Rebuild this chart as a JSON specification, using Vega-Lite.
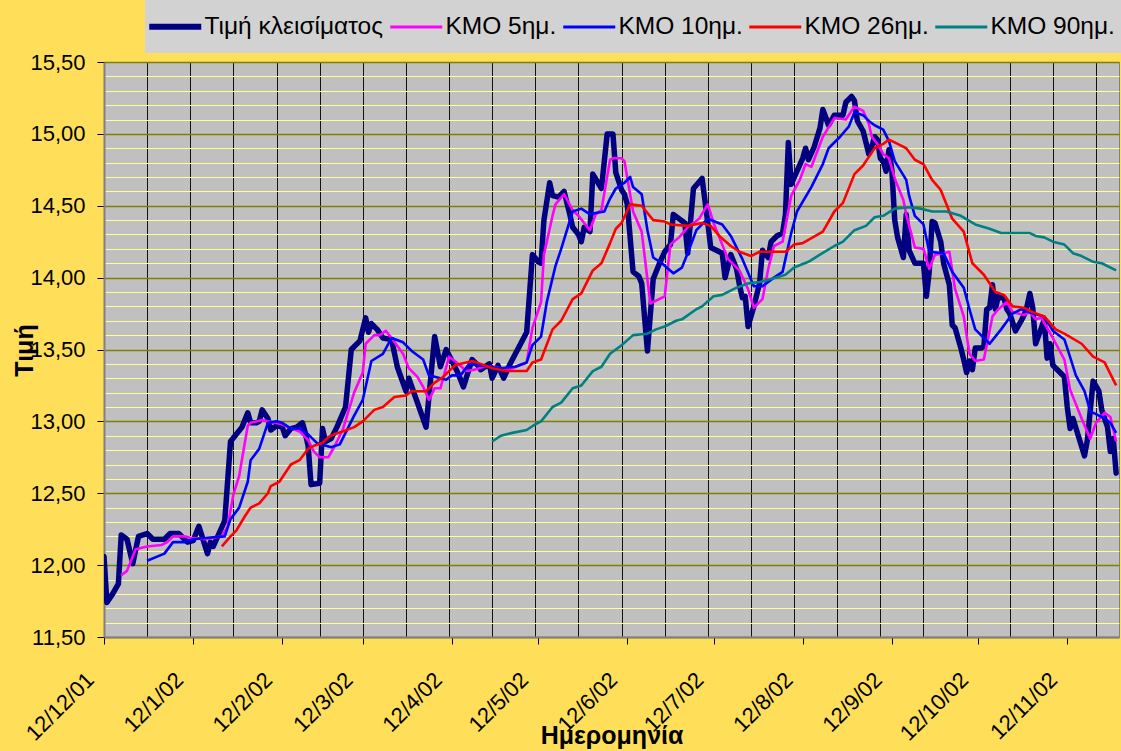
{
  "$schema": "https://vega.github.io/schema/vega-lite/v6.json",
  "width": 1015,
  "height": 575,
  "autosize": {"type": "none"},
  "padding": {"left": 104, "top": 62, "right": 2, "bottom": 114},
  "background": "#FFDF5A",
  "view": {"fill": "#C0C0C0", "stroke": "#808080", "strokeWidth": 1},
  "config": {
    "font": "Liberation Sans",
    "axis": {"labelFont": "Liberation Sans", "titleFont": "Liberation Sans", "labelColor": "#000000", "titleColor": "#000000"},
    "legend": {"labelFont": "Liberation Sans"}
  },
  "datasets": {
    "close": [
      {"t":"2001-12-12","v":12.06},{"t":"2001-12-13","v":11.74},{"t":"2001-12-15","v":11.80},{"t":"2001-12-17","v":11.87},
      {"t":"2001-12-18","v":12.21},{"t":"2001-12-20","v":12.18},{"t":"2001-12-22","v":12.01},{"t":"2001-12-24","v":12.20},
      {"t":"2001-12-27","v":12.22},{"t":"2001-12-29","v":12.18},{"t":"2002-01-02","v":12.18},{"t":"2002-01-04","v":12.22},
      {"t":"2002-01-07","v":12.22},{"t":"2002-01-10","v":12.16},{"t":"2002-01-12","v":12.17},{"t":"2002-01-14","v":12.27},
      {"t":"2002-01-17","v":12.08},{"t":"2002-01-18","v":12.16},{"t":"2002-01-19","v":12.13},{"t":"2002-01-21","v":12.22},
      {"t":"2002-01-23","v":12.31},{"t":"2002-01-25","v":12.86},{"t":"2002-01-27","v":12.91},{"t":"2002-01-29","v":12.96},
      {"t":"2002-01-31","v":13.06},{"t":"2002-02-01","v":12.99},{"t":"2002-02-03","v":12.99},{"t":"2002-02-04","v":13.00},
      {"t":"2002-02-05","v":13.08},{"t":"2002-02-07","v":13.02},{"t":"2002-02-08","v":12.94},{"t":"2002-02-10","v":12.97},
      {"t":"2002-02-12","v":12.96},{"t":"2002-02-13","v":12.90},{"t":"2002-02-15","v":12.95},{"t":"2002-02-17","v":12.96},
      {"t":"2002-02-19","v":12.99},{"t":"2002-02-20","v":12.92},{"t":"2002-02-21","v":12.83},{"t":"2002-02-22","v":12.56},
      {"t":"2002-02-25","v":12.57},{"t":"2002-02-26","v":12.95},{"t":"2002-02-27","v":12.86},{"t":"2002-03-01","v":12.88},
      {"t":"2002-03-03","v":12.96},{"t":"2002-03-06","v":13.10},{"t":"2002-03-08","v":13.50},{"t":"2002-03-11","v":13.56},
      {"t":"2002-03-13","v":13.72},{"t":"2002-03-14","v":13.62},{"t":"2002-03-15","v":13.68},{"t":"2002-03-17","v":13.64},
      {"t":"2002-03-19","v":13.58},{"t":"2002-03-22","v":13.57},{"t":"2002-03-24","v":13.38},{"t":"2002-03-27","v":13.21},
      {"t":"2002-03-28","v":13.30},{"t":"2002-03-31","v":13.13},{"t":"2002-04-03","v":12.96},{"t":"2002-04-06","v":13.59},
      {"t":"2002-04-08","v":13.38},{"t":"2002-04-10","v":13.50},{"t":"2002-04-13","v":13.38},{"t":"2002-04-14","v":13.34},
      {"t":"2002-04-16","v":13.24},{"t":"2002-04-19","v":13.43},{"t":"2002-04-21","v":13.39},{"t":"2002-04-22","v":13.36},
      {"t":"2002-04-25","v":13.40},{"t":"2002-04-26","v":13.30},{"t":"2002-04-28","v":13.39},{"t":"2002-04-30","v":13.30},
      {"t":"2002-05-02","v":13.39},{"t":"2002-05-08","v":13.62},{"t":"2002-05-10","v":14.16},{"t":"2002-05-12","v":14.11},
      {"t":"2002-05-13","v":14.10},{"t":"2002-05-14","v":14.40},{"t":"2002-05-16","v":14.66},{"t":"2002-05-17","v":14.57},
      {"t":"2002-05-19","v":14.56},{"t":"2002-05-21","v":14.60},{"t":"2002-05-23","v":14.44},{"t":"2002-05-24","v":14.35},
      {"t":"2002-05-26","v":14.30},{"t":"2002-05-27","v":14.25},{"t":"2002-05-28","v":14.35},{"t":"2002-05-30","v":14.32},
      {"t":"2002-05-31","v":14.72},{"t":"2002-06-03","v":14.62},{"t":"2002-06-05","v":15.00},{"t":"2002-06-07","v":15.00},
      {"t":"2002-06-08","v":14.73},{"t":"2002-06-10","v":14.61},{"t":"2002-06-11","v":14.58},{"t":"2002-06-12","v":14.51},
      {"t":"2002-06-14","v":14.04},{"t":"2002-06-16","v":14.01},{"t":"2002-06-17","v":13.96},{"t":"2002-06-19","v":13.49},
      {"t":"2002-06-21","v":13.99},{"t":"2002-06-23","v":14.09},{"t":"2002-06-25","v":14.18},{"t":"2002-06-27","v":14.23},
      {"t":"2002-06-28","v":14.44},{"t":"2002-06-30","v":14.41},{"t":"2002-07-02","v":14.38},{"t":"2002-07-03","v":14.17},
      {"t":"2002-07-05","v":14.62},{"t":"2002-07-08","v":14.69},{"t":"2002-07-10","v":14.38},{"t":"2002-07-11","v":14.21},
      {"t":"2002-07-14","v":14.18},{"t":"2002-07-15","v":14.17},{"t":"2002-07-16","v":14.00},{"t":"2002-07-18","v":14.16},
      {"t":"2002-07-20","v":14.06},{"t":"2002-07-21","v":13.95},{"t":"2002-07-22","v":13.86},{"t":"2002-07-23","v":13.87},
      {"t":"2002-07-24","v":13.66},{"t":"2002-07-26","v":13.80},{"t":"2002-07-28","v":13.96},{"t":"2002-07-29","v":14.19},
      {"t":"2002-07-31","v":14.14},{"t":"2002-08-01","v":14.25},{"t":"2002-08-03","v":14.29},{"t":"2002-08-05","v":14.31},
      {"t":"2002-08-06","v":14.44},{"t":"2002-08-07","v":14.94},{"t":"2002-08-08","v":14.65},{"t":"2002-08-10","v":14.74},
      {"t":"2002-08-12","v":14.83},{"t":"2002-08-13","v":14.90},{"t":"2002-08-14","v":14.82},{"t":"2002-08-16","v":14.91},
      {"t":"2002-08-18","v":15.04},{"t":"2002-08-19","v":15.17},{"t":"2002-08-21","v":15.06},{"t":"2002-08-23","v":15.13},
      {"t":"2002-08-26","v":15.13},{"t":"2002-08-27","v":15.22},{"t":"2002-08-29","v":15.26},{"t":"2002-08-30","v":15.23},
      {"t":"2002-08-31","v":15.09},{"t":"2002-09-02","v":15.02},{"t":"2002-09-04","v":14.86},{"t":"2002-09-05","v":14.91},
      {"t":"2002-09-06","v":14.98},{"t":"2002-09-07","v":14.96},{"t":"2002-09-08","v":14.83},{"t":"2002-09-09","v":14.81},
      {"t":"2002-09-10","v":14.74},{"t":"2002-09-11","v":14.89},{"t":"2002-09-12","v":14.75},{"t":"2002-09-13","v":14.40},
      {"t":"2002-09-14","v":14.28},{"t":"2002-09-16","v":14.14},{"t":"2002-09-17","v":14.44},{"t":"2002-09-18","v":14.19},
      {"t":"2002-09-20","v":14.10},{"t":"2002-09-23","v":14.10},{"t":"2002-09-24","v":13.87},{"t":"2002-09-25","v":14.04},
      {"t":"2002-09-26","v":14.39},{"t":"2002-09-27","v":14.38},{"t":"2002-09-29","v":14.25},{"t":"2002-09-30","v":14.10},
      {"t":"2002-10-02","v":13.95},{"t":"2002-10-03","v":13.67},{"t":"2002-10-04","v":13.65},{"t":"2002-10-06","v":13.51},
      {"t":"2002-10-07","v":13.43},{"t":"2002-10-08","v":13.34},{"t":"2002-10-09","v":13.42},{"t":"2002-10-10","v":13.36},
      {"t":"2002-10-11","v":13.51},{"t":"2002-10-13","v":13.51},{"t":"2002-10-14","v":13.52},{"t":"2002-10-15","v":13.78},
      {"t":"2002-10-16","v":13.79},{"t":"2002-10-17","v":13.95},{"t":"2002-10-18","v":13.78},{"t":"2002-10-19","v":13.87},
      {"t":"2002-10-20","v":13.86},{"t":"2002-10-21","v":13.86},{"t":"2002-10-22","v":13.78},{"t":"2002-10-23","v":13.75},
      {"t":"2002-10-25","v":13.63},{"t":"2002-10-27","v":13.70},{"t":"2002-10-28","v":13.74},{"t":"2002-10-29","v":13.80},
      {"t":"2002-10-30","v":13.89},{"t":"2002-10-31","v":13.79},{"t":"2002-11-01","v":13.54},{"t":"2002-11-03","v":13.65},
      {"t":"2002-11-04","v":13.71},{"t":"2002-11-05","v":13.44},{"t":"2002-11-06","v":13.54},{"t":"2002-11-07","v":13.39},
      {"t":"2002-11-09","v":13.35},{"t":"2002-11-11","v":13.31},{"t":"2002-11-12","v":13.10},{"t":"2002-11-13","v":12.95},
      {"t":"2002-11-14","v":13.02},{"t":"2002-11-16","v":12.89},{"t":"2002-11-18","v":12.76},{"t":"2002-11-19","v":12.87},
      {"t":"2002-11-21","v":13.28},{"t":"2002-11-23","v":13.21},{"t":"2002-11-24","v":13.08},{"t":"2002-11-26","v":12.96},
      {"t":"2002-11-27","v":12.79},{"t":"2002-11-28","v":12.88},{"t":"2002-11-29","v":12.64}
    ],
    "ma5": [
      {"t":"2001-12-18","v":11.93},{"t":"2001-12-20","v":11.96},{"t":"2001-12-23","v":12.11},{"t":"2001-12-27","v":12.13},
      {"t":"2002-01-01","v":12.14},{"t":"2002-01-03","v":12.16},{"t":"2002-01-05","v":12.20},{"t":"2002-01-09","v":12.20},
      {"t":"2002-01-11","v":12.19},{"t":"2002-01-16","v":12.18},{"t":"2002-01-19","v":12.19},{"t":"2002-01-22","v":12.20},
      {"t":"2002-01-24","v":12.27},{"t":"2002-01-26","v":12.49},{"t":"2002-01-28","v":12.62},{"t":"2002-01-31","v":12.97},
      {"t":"2002-02-01","v":12.99},{"t":"2002-02-05","v":13.01},{"t":"2002-02-07","v":13.00},{"t":"2002-02-12","v":12.98},
      {"t":"2002-02-14","v":12.96},{"t":"2002-02-18","v":12.93},{"t":"2002-02-21","v":12.87},{"t":"2002-02-23","v":12.79},
      {"t":"2002-02-25","v":12.75},{"t":"2002-02-28","v":12.75},{"t":"2002-03-02","v":12.82},{"t":"2002-03-05","v":12.94},
      {"t":"2002-03-09","v":13.20},{"t":"2002-03-12","v":13.34},{"t":"2002-03-13","v":13.54},{"t":"2002-03-16","v":13.60},
      {"t":"2002-03-18","v":13.60},{"t":"2002-03-20","v":13.63},{"t":"2002-03-22","v":13.58},{"t":"2002-03-26","v":13.47},
      {"t":"2002-03-28","v":13.37},{"t":"2002-03-31","v":13.31},{"t":"2002-04-02","v":13.24},{"t":"2002-04-04","v":13.15},
      {"t":"2002-04-06","v":13.23},{"t":"2002-04-08","v":13.23},{"t":"2002-04-11","v":13.45},{"t":"2002-04-13","v":13.42},
      {"t":"2002-04-17","v":13.35},{"t":"2002-04-20","v":13.36},{"t":"2002-04-23","v":13.38},{"t":"2002-04-27","v":13.38},
      {"t":"2002-04-30","v":13.36},{"t":"2002-05-03","v":13.37},{"t":"2002-05-08","v":13.41},{"t":"2002-05-10","v":13.65},
      {"t":"2002-05-13","v":13.83},{"t":"2002-05-14","v":14.16},{"t":"2002-05-17","v":14.43},{"t":"2002-05-18","v":14.51},
      {"t":"2002-05-21","v":14.58},{"t":"2002-05-24","v":14.47},{"t":"2002-05-26","v":14.43},{"t":"2002-05-28","v":14.38},
      {"t":"2002-05-30","v":14.33},{"t":"2002-06-01","v":14.44},{"t":"2002-06-03","v":14.47},{"t":"2002-06-06","v":14.82},
      {"t":"2002-06-07","v":14.83},{"t":"2002-06-10","v":14.83},{"t":"2002-06-11","v":14.81},{"t":"2002-06-14","v":14.46},
      {"t":"2002-06-17","v":14.32},{"t":"2002-06-20","v":13.82},{"t":"2002-06-25","v":13.87},{"t":"2002-06-27","v":14.23},
      {"t":"2002-06-30","v":14.28},{"t":"2002-07-03","v":14.35},{"t":"2002-07-07","v":14.41},{"t":"2002-07-10","v":14.51},
      {"t":"2002-07-12","v":14.38},{"t":"2002-07-14","v":14.28},{"t":"2002-07-17","v":14.13},{"t":"2002-07-21","v":14.05},
      {"t":"2002-07-24","v":13.92},{"t":"2002-07-26","v":13.79},{"t":"2002-07-29","v":13.85},{"t":"2002-07-31","v":14.06},
      {"t":"2002-08-02","v":14.22},{"t":"2002-08-05","v":14.25},{"t":"2002-08-08","v":14.57},{"t":"2002-08-11","v":14.68},
      {"t":"2002-08-13","v":14.79},{"t":"2002-08-15","v":14.77},{"t":"2002-08-19","v":14.98},{"t":"2002-08-23","v":15.11},
      {"t":"2002-08-27","v":15.10},{"t":"2002-08-30","v":15.19},{"t":"2002-09-02","v":15.16},{"t":"2002-09-04","v":15.07},
      {"t":"2002-09-05","v":14.98},{"t":"2002-09-07","v":14.93},{"t":"2002-09-09","v":14.86},{"t":"2002-09-11","v":14.83},
      {"t":"2002-09-13","v":14.69},{"t":"2002-09-16","v":14.54},{"t":"2002-09-17","v":14.44},{"t":"2002-09-20","v":14.21},
      {"t":"2002-09-23","v":14.20},{"t":"2002-09-25","v":14.06},{"t":"2002-09-27","v":14.16},{"t":"2002-09-30","v":14.17},
      {"t":"2002-10-02","v":14.18},{"t":"2002-10-04","v":13.92},{"t":"2002-10-07","v":13.73},{"t":"2002-10-09","v":13.47},
      {"t":"2002-10-11","v":13.42},{"t":"2002-10-14","v":13.43},{"t":"2002-10-17","v":13.73},{"t":"2002-10-19","v":13.78},
      {"t":"2002-10-22","v":13.83},{"t":"2002-10-24","v":13.76},{"t":"2002-10-28","v":13.74},{"t":"2002-10-30","v":13.76},
      {"t":"2002-11-01","v":13.71},{"t":"2002-11-03","v":13.72},{"t":"2002-11-07","v":13.58},{"t":"2002-11-11","v":13.43},
      {"t":"2002-11-13","v":13.22},{"t":"2002-11-15","v":13.12},{"t":"2002-11-17","v":13.02},{"t":"2002-11-20","v":12.88},
      {"t":"2002-11-22","v":12.99},{"t":"2002-11-25","v":13.06},{"t":"2002-11-27","v":13.03},{"t":"2002-11-29","v":12.86}
    ],
    "ma10": [
      {"t":"2001-12-27","v":12.03},{"t":"2002-01-02","v":12.08},{"t":"2002-01-05","v":12.16},{"t":"2002-01-09","v":12.16},
      {"t":"2002-01-12","v":12.18},{"t":"2002-01-17","v":12.19},{"t":"2002-01-23","v":12.20},{"t":"2002-01-25","v":12.32},
      {"t":"2002-01-28","v":12.40},{"t":"2002-01-31","v":12.58},{"t":"2002-02-01","v":12.73},{"t":"2002-02-04","v":12.81},
      {"t":"2002-02-07","v":12.99},{"t":"2002-02-10","v":13.00},{"t":"2002-02-12","v":12.99},{"t":"2002-02-15","v":12.95},
      {"t":"2002-02-18","v":12.95},{"t":"2002-02-21","v":12.91},{"t":"2002-02-24","v":12.85},{"t":"2002-03-01","v":12.82},
      {"t":"2002-03-04","v":12.84},{"t":"2002-03-06","v":12.92},{"t":"2002-03-09","v":13.04},{"t":"2002-03-12","v":13.15},
      {"t":"2002-03-15","v":13.42},{"t":"2002-03-19","v":13.47},{"t":"2002-03-22","v":13.58},{"t":"2002-03-26","v":13.55},
      {"t":"2002-03-29","v":13.49},{"t":"2002-04-02","v":13.43},{"t":"2002-04-04","v":13.32},{"t":"2002-04-08","v":13.30},
      {"t":"2002-04-10","v":13.29},{"t":"2002-04-12","v":13.32},{"t":"2002-04-15","v":13.32},{"t":"2002-04-18","v":13.40},
      {"t":"2002-04-21","v":13.39},{"t":"2002-04-25","v":13.38},{"t":"2002-04-29","v":13.37},{"t":"2002-05-04","v":13.38},
      {"t":"2002-05-08","v":13.41},{"t":"2002-05-10","v":13.53},{"t":"2002-05-13","v":13.59},{"t":"2002-05-15","v":13.83},
      {"t":"2002-05-18","v":14.08},{"t":"2002-05-20","v":14.20},{"t":"2002-05-24","v":14.46},{"t":"2002-05-27","v":14.48},
      {"t":"2002-05-30","v":14.44},{"t":"2002-06-01","v":14.45},{"t":"2002-06-04","v":14.46},{"t":"2002-06-06","v":14.55},
      {"t":"2002-06-08","v":14.62},{"t":"2002-06-11","v":14.66},{"t":"2002-06-13","v":14.70},{"t":"2002-06-14","v":14.63},
      {"t":"2002-06-17","v":14.58},{"t":"2002-06-19","v":14.33},{"t":"2002-06-21","v":14.14},{"t":"2002-06-24","v":14.10},
      {"t":"2002-06-28","v":14.03},{"t":"2002-07-01","v":14.07},{"t":"2002-07-03","v":14.17},{"t":"2002-07-06","v":14.33},
      {"t":"2002-07-10","v":14.41},{"t":"2002-07-15","v":14.37},{"t":"2002-07-18","v":14.29},{"t":"2002-07-22","v":14.13},
      {"t":"2002-07-26","v":13.94},{"t":"2002-07-29","v":13.94},{"t":"2002-08-02","v":14.00},{"t":"2002-08-05","v":14.04},
      {"t":"2002-08-08","v":14.31},{"t":"2002-08-10","v":14.46},{"t":"2002-08-15","v":14.63},{"t":"2002-08-19","v":14.79},
      {"t":"2002-08-21","v":14.90},{"t":"2002-08-25","v":14.98},{"t":"2002-08-28","v":15.05},{"t":"2002-08-30","v":15.15},
      {"t":"2002-09-02","v":15.13},{"t":"2002-09-04","v":15.09},{"t":"2002-09-06","v":15.06},{"t":"2002-09-09","v":15.03},
      {"t":"2002-09-11","v":14.95},{"t":"2002-09-13","v":14.81},{"t":"2002-09-17","v":14.68},{"t":"2002-09-18","v":14.57},
      {"t":"2002-09-20","v":14.43},{"t":"2002-09-23","v":14.37},{"t":"2002-09-25","v":14.18},{"t":"2002-09-30","v":14.17},
      {"t":"2002-10-03","v":14.04},{"t":"2002-10-07","v":13.93},{"t":"2002-10-09","v":13.78},{"t":"2002-10-11","v":13.64},
      {"t":"2002-10-16","v":13.54},{"t":"2002-10-20","v":13.64},{"t":"2002-10-24","v":13.75},{"t":"2002-10-27","v":13.78},
      {"t":"2002-10-31","v":13.75},{"t":"2002-11-04","v":13.73},{"t":"2002-11-07","v":13.63},{"t":"2002-11-11","v":13.57},
      {"t":"2002-11-12","v":13.51},{"t":"2002-11-15","v":13.32},{"t":"2002-11-18","v":13.21},{"t":"2002-11-20","v":13.07},
      {"t":"2002-11-22","v":13.05},{"t":"2002-11-25","v":13.02},{"t":"2002-11-27","v":12.99},{"t":"2002-11-29","v":12.92}
    ],
    "ma26": [
      {"t":"2002-01-22","v":12.13},{"t":"2002-01-25","v":12.20},{"t":"2002-01-27","v":12.24},{"t":"2002-01-30","v":12.34},
      {"t":"2002-02-01","v":12.40},{"t":"2002-02-04","v":12.43},{"t":"2002-02-07","v":12.50},{"t":"2002-02-08","v":12.55},
      {"t":"2002-02-11","v":12.58},{"t":"2002-02-15","v":12.70},{"t":"2002-02-18","v":12.73},{"t":"2002-02-21","v":12.81},
      {"t":"2002-02-23","v":12.83},{"t":"2002-02-26","v":12.85},{"t":"2002-02-28","v":12.89},{"t":"2002-03-02","v":12.91},
      {"t":"2002-03-05","v":12.93},{"t":"2002-03-09","v":12.96},{"t":"2002-03-12","v":13.00},{"t":"2002-03-16","v":13.08},
      {"t":"2002-03-19","v":13.10},{"t":"2002-03-23","v":13.17},{"t":"2002-03-27","v":13.18},{"t":"2002-03-29","v":13.21},
      {"t":"2002-04-03","v":13.21},{"t":"2002-04-06","v":13.27},{"t":"2002-04-09","v":13.31},{"t":"2002-04-13","v":13.39},
      {"t":"2002-04-17","v":13.41},{"t":"2002-04-19","v":13.42},{"t":"2002-04-22","v":13.40},{"t":"2002-04-26","v":13.37},
      {"t":"2002-05-01","v":13.35},{"t":"2002-05-08","v":13.35},{"t":"2002-05-10","v":13.41},{"t":"2002-05-13","v":13.43},
      {"t":"2002-05-17","v":13.64},{"t":"2002-05-20","v":13.70},{"t":"2002-05-24","v":13.85},{"t":"2002-05-27","v":13.89},
      {"t":"2002-05-31","v":14.05},{"t":"2002-06-03","v":14.10},{"t":"2002-06-06","v":14.24},{"t":"2002-06-08","v":14.34},
      {"t":"2002-06-10","v":14.38},{"t":"2002-06-13","v":14.51},{"t":"2002-06-17","v":14.50},{"t":"2002-06-21","v":14.40},
      {"t":"2002-06-25","v":14.39},{"t":"2002-06-27","v":14.37},{"t":"2002-07-03","v":14.36},{"t":"2002-07-08","v":14.38},
      {"t":"2002-07-11","v":14.36},{"t":"2002-07-14","v":14.29},{"t":"2002-07-18","v":14.22},{"t":"2002-07-21","v":14.18},
      {"t":"2002-07-25","v":14.15},{"t":"2002-07-28","v":14.18},{"t":"2002-08-02","v":14.18},{"t":"2002-08-06","v":14.18},
      {"t":"2002-08-09","v":14.23},{"t":"2002-08-12","v":14.24},{"t":"2002-08-19","v":14.32},{"t":"2002-08-23","v":14.46},
      {"t":"2002-08-26","v":14.52},{"t":"2002-08-30","v":14.72},{"t":"2002-09-02","v":14.78},{"t":"2002-09-04","v":14.84},
      {"t":"2002-09-06","v":14.90},{"t":"2002-09-09","v":14.93},{"t":"2002-09-11","v":14.96},{"t":"2002-09-14","v":14.93},
      {"t":"2002-09-17","v":14.90},{"t":"2002-09-20","v":14.82},{"t":"2002-09-23","v":14.79},{"t":"2002-09-26","v":14.68},
      {"t":"2002-09-29","v":14.61},{"t":"2002-10-03","v":14.41},{"t":"2002-10-07","v":14.32},{"t":"2002-10-10","v":14.10},
      {"t":"2002-10-14","v":14.02},{"t":"2002-10-18","v":13.90},{"t":"2002-10-21","v":13.88},{"t":"2002-10-24","v":13.80},
      {"t":"2002-10-28","v":13.79},{"t":"2002-10-31","v":13.76},{"t":"2002-11-04","v":13.73},{"t":"2002-11-08","v":13.64},
      {"t":"2002-11-11","v":13.61},{"t":"2002-11-17","v":13.54},{"t":"2002-11-21","v":13.45},{"t":"2002-11-25","v":13.41},
      {"t":"2002-11-29","v":13.25}
    ],
    "ma90": [
      {"t":"2002-04-26","v":12.86},{"t":"2002-04-29","v":12.90},{"t":"2002-05-03","v":12.92},{"t":"2002-05-08","v":12.94},
      {"t":"2002-05-11","v":12.98},{"t":"2002-05-13","v":13.00},{"t":"2002-05-17","v":13.10},{"t":"2002-05-20","v":13.13},
      {"t":"2002-05-24","v":13.23},{"t":"2002-05-27","v":13.25},{"t":"2002-05-31","v":13.35},{"t":"2002-06-03","v":13.38},
      {"t":"2002-06-06","v":13.47},{"t":"2002-06-10","v":13.53},{"t":"2002-06-14","v":13.60},{"t":"2002-06-19","v":13.61},
      {"t":"2002-06-22","v":13.64},{"t":"2002-06-25","v":13.66},{"t":"2002-06-29","v":13.70},{"t":"2002-07-01","v":13.71},
      {"t":"2002-07-06","v":13.78},{"t":"2002-07-08","v":13.80},{"t":"2002-07-12","v":13.87},{"t":"2002-07-15","v":13.88},
      {"t":"2002-07-20","v":13.93},{"t":"2002-07-24","v":13.96},{"t":"2002-07-28","v":13.97},{"t":"2002-08-01","v":13.99},
      {"t":"2002-08-06","v":14.02},{"t":"2002-08-09","v":14.07},{"t":"2002-08-14","v":14.11},{"t":"2002-08-18","v":14.16},
      {"t":"2002-08-23","v":14.22},{"t":"2002-08-26","v":14.25},{"t":"2002-08-30","v":14.33},{"t":"2002-09-03","v":14.36},
      {"t":"2002-09-06","v":14.42},{"t":"2002-09-09","v":14.43},{"t":"2002-09-13","v":14.48},{"t":"2002-09-18","v":14.49},
      {"t":"2002-09-22","v":14.48},{"t":"2002-09-26","v":14.46},{"t":"2002-10-01","v":14.46},{"t":"2002-10-06","v":14.43},
      {"t":"2002-10-11","v":14.37},{"t":"2002-10-16","v":14.34},{"t":"2002-10-20","v":14.31},{"t":"2002-10-25","v":14.31},
      {"t":"2002-10-30","v":14.31},{"t":"2002-11-01","v":14.29},{"t":"2002-11-04","v":14.28},{"t":"2002-11-07","v":14.25},
      {"t":"2002-11-11","v":14.23},{"t":"2002-11-14","v":14.17},{"t":"2002-11-17","v":14.15},{"t":"2002-11-21","v":14.11},
      {"t":"2002-11-24","v":14.10},{"t":"2002-11-29","v":14.05}
    ]
  },
  "encoding": {
    "x": {
      "field": "t",
      "type": "temporal",
      "scale": {
        "type": "utc",
        "nice": false,
        "domain": [{"year": 2001, "month": 12, "date": 12, "utc": true}, {"year": 2002, "month": 11, "date": 30, "utc": true}]
      },
      "axis": {
        "values": [
          {"year": 2001, "month": 12, "date": 12, "utc": true}, {"year": 2001, "month": 12, "date": 27, "utc": true},
          {"year": 2002, "month": 1, "date": 11, "utc": true}, {"year": 2002, "month": 1, "date": 12, "utc": true},
          {"year": 2002, "month": 1, "date": 26, "utc": true}, {"year": 2002, "month": 2, "date": 10, "utc": true},
          {"year": 2002, "month": 2, "date": 12, "utc": true}, {"year": 2002, "month": 2, "date": 25, "utc": true},
          {"year": 2002, "month": 3, "date": 12, "utc": true}, {"year": 2002, "month": 3, "date": 27, "utc": true},
          {"year": 2002, "month": 4, "date": 11, "utc": true}, {"year": 2002, "month": 4, "date": 12, "utc": true},
          {"year": 2002, "month": 4, "date": 26, "utc": true}, {"year": 2002, "month": 5, "date": 11, "utc": true},
          {"year": 2002, "month": 5, "date": 12, "utc": true}, {"year": 2002, "month": 5, "date": 26, "utc": true},
          {"year": 2002, "month": 6, "date": 10, "utc": true}, {"year": 2002, "month": 6, "date": 12, "utc": true},
          {"year": 2002, "month": 6, "date": 25, "utc": true}, {"year": 2002, "month": 7, "date": 10, "utc": true},
          {"year": 2002, "month": 7, "date": 12, "utc": true}, {"year": 2002, "month": 7, "date": 25, "utc": true},
          {"year": 2002, "month": 8, "date": 9, "utc": true}, {"year": 2002, "month": 8, "date": 12, "utc": true},
          {"year": 2002, "month": 8, "date": 24, "utc": true}, {"year": 2002, "month": 9, "date": 8, "utc": true},
          {"year": 2002, "month": 9, "date": 12, "utc": true}, {"year": 2002, "month": 9, "date": 23, "utc": true},
          {"year": 2002, "month": 10, "date": 8, "utc": true}, {"year": 2002, "month": 10, "date": 12, "utc": true},
          {"year": 2002, "month": 10, "date": 23, "utc": true}, {"year": 2002, "month": 11, "date": 7, "utc": true},
          {"year": 2002, "month": 11, "date": 12, "utc": true}, {"year": 2002, "month": 11, "date": 22, "utc": true}
        ],
        "labelExpr": "utcdate(datum.value) == 12 ? utcFormat(datum.value, '%d/%-m/%y') : ''",
        "labelAngle": -45,
        "labelAlign": "right",
        "labelBaseline": "middle",
        "labelPadding": 32,
        "labelOffset": -14,
        "labelFontSize": 22,
        "labelOverlap": false,
        "labelBound": false,
        "labelFlush": false,
        "grid": true,
        "gridColor": "#000000",
        "gridWidth": 1,
        "gridOpacity": {"condition": {"test": "round((datum.value - utc(2001, 11, 12)) / 86400000) % 15 == 0", "value": 0.9}, "value": 0},
        "ticks": true,
        "tickSize": 7,
        "tickColor": "#000000",
        "tickOpacity": {"condition": {"test": "utcdate(datum.value) == 12", "value": 1}, "value": 0},
        "domainColor": "#808080",
        "domainWidth": 2,
        "title": "Ημερομηνία",
        "titleFontSize": 25,
        "titleFontWeight": "bold",
        "titleY": 98,
        "titleBaseline": "middle"
      }
    },
    "y": {
      "field": "v",
      "type": "quantitative",
      "scale": {"domain": [11.5, 15.5], "nice": false, "zero": false},
      "axis": {
        "values": [11.5,11.6,11.7,11.8,11.9,12,12.1,12.2,12.3,12.4,12.5,12.6,12.7,12.8,12.9,13,13.1,13.2,13.3,13.4,13.5,13.6,13.7,13.8,13.9,14,14.1,14.2,14.3,14.4,14.5,14.6,14.7,14.8,14.9,15,15.1,15.2,15.3,15.4,15.5],
        "labelExpr": "abs(datum.value * 2 - round(datum.value * 2)) < 0.01 ? replace(format(datum.value, '.2f'), '.', ',') : ''",
        "labelFontSize": 22,
        "labelPadding": 12,
        "labelOverlap": false,
        "labelBound": false,
        "labelFlush": false,
        "grid": true,
        "gridColor": {"condition": {"test": "abs(datum.value * 2 - round(datum.value * 2)) < 0.01", "value": "#808000"}, "value": "#FFFF99"},
        "gridWidth": {"condition": {"test": "abs(datum.value * 2 - round(datum.value * 2)) < 0.01", "value": 1.5}, "value": 1.2},
        "tickSize": 7,
        "tickColor": "#000000",
        "tickOpacity": {"condition": {"test": "abs(datum.value * 2 - round(datum.value * 2)) < 0.01", "value": 1}, "value": 0},
        "domainColor": "#808080",
        "domainWidth": 2,
        "title": "Τιμή",
        "titleFontSize": 25,
        "titleFontWeight": "bold",
        "titleAngle": -90,
        "titleX": -80,
        "titleY": 288,
        "titleAlign": "center",
        "titleBaseline": "middle"
      }
    }
  },
  "layer": [
    {
      "data": {"name": "close"},
      "mark": {"type": "line", "strokeWidth": 5.5, "strokeJoin": "round", "strokeCap": "round", "clip": true},
      "encoding": {
        "color": {
          "datum": "Τιμή κλεισίματος",
          "type": "nominal",
          "scale": {
            "domain": ["Τιμή κλεισίματος", "ΚΜΟ 5ημ.", "ΚΜΟ 10ημ.", "ΚΜΟ 26ημ.", "ΚΜΟ 90ημ."],
            "range": ["#000080", "#FF00FF", "#0000FF", "#FF0000", "#008080"]
          },
          "legend": {
            "title": null,
            "orient": "none",
            "legendX": 41,
            "legendY": -62,
            "direction": "horizontal",
            "columns": 5,
            "symbolType": "stroke",
            "symbolSize": 4200,
            "symbolStrokeWidth": 3,
            "symbolOffset": 4,
            "labelFontSize": 24.5,
            "labelColor": "#000000",
            "labelOffset": 17,
            "labelLimit": 400,
            "columnPadding": 0,
            "padding": 14,
            "fillColor": "#D2D2D2",
            "encode": {
              "symbols": {"update": {
                "size": {"value": 2704},
                "strokeWidth": {"signal": "datum.value === 'Τιμή κλεισίματος' ? 6 : 3"}
              }}
            }
          }
        }
      }
    },
    {
      "data": {"name": "ma5"},
      "mark": {"type": "line", "strokeWidth": 2.6, "strokeJoin": "round", "clip": true},
      "encoding": {"color": {"datum": "ΚΜΟ 5ημ.", "type": "nominal"}}
    },
    {
      "data": {"name": "ma10"},
      "mark": {"type": "line", "strokeWidth": 2.6, "strokeJoin": "round", "clip": true},
      "encoding": {"color": {"datum": "ΚΜΟ 10ημ.", "type": "nominal"}}
    },
    {
      "data": {"name": "ma26"},
      "mark": {"type": "line", "strokeWidth": 2.6, "strokeJoin": "round", "clip": true},
      "encoding": {"color": {"datum": "ΚΜΟ 26ημ.", "type": "nominal"}}
    },
    {
      "data": {"name": "ma90"},
      "mark": {"type": "line", "strokeWidth": 2.6, "strokeJoin": "round", "clip": true},
      "encoding": {"color": {"datum": "ΚΜΟ 90ημ.", "type": "nominal"}}
    }
  ]
}
